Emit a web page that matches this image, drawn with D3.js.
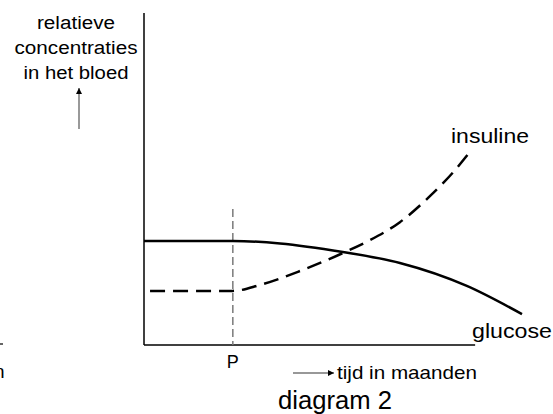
<!DOCTYPE html>
<html>
<head>
<meta charset="utf-8">
<script src="https://cdn.jsdelivr.net/npm/d3@7"></script>
<style>
  html, body { margin: 0; padding: 0; background: #fff; }
  svg { display: block; font-family: "Liberation Sans", Arial, sans-serif; }
</style>
</head>
<body>
<div class="chart"></div>
<script>
// tijd in maanden (x) en relatieve concentratie (y, 0-100)
const glucoseMonths = [0, 2.35, 3.6, 5.26, 6.77, 8.54, 10];
const glucoseValues = [31.3, 31.3, 30.6, 28.0, 24.7, 17.8, 9.3];
const insulineMonths = [0.16, 2.35, 3.07, 4.13, 5.26, 5.98, 6.77, 7.57, 8.23, 8.68];
const insulineValues = [16.3, 16.3, 18.1, 22.3, 27.7, 31.6, 37.0, 44.9, 52.7, 59.0];
const pMonth = 2.35;
const pFrom = 41;          // top of the dashed P line (value)
const xAxisEnd = 8.76;
const yLabelLines = ['relatieve', 'concentraties', 'in het bloed'];

(function() {
var width = 553, height = 414;
var svg = d3.select(".chart").append('svg')
    .attr('width', width).attr('height', height);

var x = d3.scaleLinear().domain([0, 10]).range([144, 522]);
var y = d3.scaleLinear().domain([0, 100]).range([345, 13]);

var defs = svg.append('defs');
defs.append('marker')
    .attr('id', 'head')
    .attr('viewBox', '0 0 10 10')
    .attr('refX', 10).attr('refY', 5)
    .attr('markerWidth', 10).attr('markerHeight', 6)
    .attr('markerUnits', 'userSpaceOnUse')
    .attr('orient', 'auto')
  .append('path')
    .attr('d', 'M0,0L10,5L0,10Z')
    .attr('fill', '#000');

// assen
svg.append('line')
    .attr('x1', x(0)).attr('x2', x(0))
    .attr('y1', y(100)).attr('y2', y(0))
    .attr('stroke', '#000').attr('stroke-width', 1.5);
svg.append('line')
    .attr('x1', x(0)).attr('x2', x(xAxisEnd))
    .attr('y1', y(0)).attr('y2', y(0))
    .attr('stroke', '#000').attr('stroke-width', 1.5);

// stippellijn bij P
svg.append('line')
    .attr('x1', x(pMonth)).attr('x2', x(pMonth))
    .attr('y1', y(pFrom)).attr('y2', y(0))
    .attr('stroke', '#7a7a7a').attr('stroke-width', 1.5)
    .attr('stroke-dasharray', '8,4');

var line = d3.line()
    .x((d) => x(d[0]))
    .y((d) => y(d[1]))
    .curve(d3.curveMonotoneX);

svg.append('path')
    .datum(d3.zip(glucoseMonths, glucoseValues))
    .attr('d', line)
    .attr('fill', 'none')
    .attr('stroke', '#000')
    .attr('stroke-width', 2.5);

svg.append('path')
    .datum(d3.zip(insulineMonths, insulineValues))
    .attr('d', line)
    .attr('fill', 'none')
    .attr('stroke', '#000')
    .attr('stroke-width', 2.5)
    .attr('stroke-dasharray', '15,8');

function label(txt, px, py, size, len, anchor) {
    var t = svg.append('text')
        .attr('x', px).attr('y', py)
        .attr('font-size', size)
        .attr('fill', '#000')
        .attr('text-anchor', anchor || 'start')
        .text(txt);
    if (len) t.attr('textLength', len).attr('lengthAdjust', 'spacingAndGlyphs');
    return t;
}

// y-as label
var yLens = [78, 123, 105];
yLabelLines.forEach((d, i) => label(d, 76, 29 + i * 25, 18, yLens[i], 'middle'));
svg.append('line')
    .attr('x1', 79).attr('x2', 79)
    .attr('y1', 129).attr('y2', 88)
    .attr('stroke', '#555').attr('stroke-width', 1.2)
    .attr('marker-end', 'url(#head)');

label('insuline', 451, 143, 20, 78);
label('glucose', 472, 338, 20, 80);
label('P', x(pMonth), 368, 18, null, 'middle');

svg.append('line')
    .attr('x1', 293).attr('x2', 334)
    .attr('y1', 373).attr('y2', 373)
    .attr('stroke', '#333').attr('stroke-width', 1.2)
    .attr('marker-end', 'url(#head)');
label('tijd in maanden', 337, 379, 19, 140);
label('diagram 2', 278, 409, 25, 114);

// afgesneden resten van het diagram links
svg.append('line')
    .attr('x1', 0).attr('x2', 3)
    .attr('y1', 344).attr('y2', 344)
    .attr('stroke', '#000').attr('stroke-width', 1.2);
label('n', -6, 378, 19);
}())
</script>
</body>
</html>
